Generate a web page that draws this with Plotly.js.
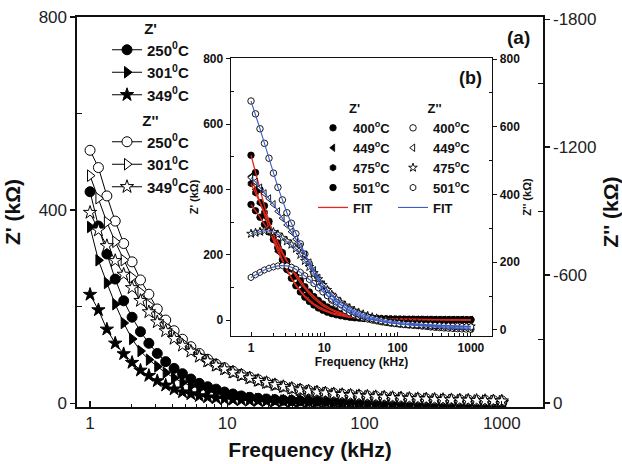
<!DOCTYPE html>
<html><head><meta charset="utf-8">
<script src="https://cdn.plot.ly/plotly-3.0.1.min.js"></script>
<style>html,body{margin:0;padding:0;background:#fff}#chart{width:622px;height:464px}</style>
</head><body><div id="chart"></div>
<script>
// Frequencies (kHz), shared by both panels
const freq = [1, 1.151, 1.326, 1.526, 1.758, 2.024, 2.330, 2.683, 3.089, 3.557, 4.095, 4.715, 5.429, 6.251, 7.198, 8.288, 9.542, 10.99, 12.65, 14.57, 16.77, 19.31, 22.24, 25.60, 29.48, 33.94, 39.08, 45.00, 51.81, 59.65, 68.69, 79.09, 91.06, 104.8, 120.7, 139.0, 160.0, 184.2, 212.1, 244.2, 281.2, 323.8, 372.8, 429.3, 494.2, 569.1, 655.2, 754.4, 868.6, 1000];

// Panel (a): Z' (kOhm, left axis)
const zr250 = [438,367,309,257,212,178,148,124,103,86, 72,61,50,41,34,29,23,19,15,12, 10,8.5,7.2,6.2,5.4,4.8,4.3,3.9,3.6,3.3, 3.1,2.9,2.7,2.5,2.4,2.3,2.2,2.1,2.0,1.9, 1.8,1.7,1.6,1.5,1.4,1.3,1.2,1.1,1.0,0.9];
const zr301 = [365,296,249,205,166,133,108,90,76,63, 52,43,36,30,25,21,17,14,12,10, 8.5,7.2,6.2,5.4,4.8,4.3,3.9,3.6,3.3,3.1, 2.9,2.7,2.5,2.4,2.3,2.2,2.1,2.0,1.9,1.8, 1.7,1.6,1.5,1.4,1.3,1.2,1.1,1.0,0.9,0.8];
const zr349 = [225,193,153,124,102,84,68,57,46,37, 29,23,19,15,12.5,10.5,9,7.5,6.5,5.5, 5,4.5,4.1,3.8,3.5,3.2,3.0,2.8,2.6,2.4, 2.2,2.0,1.9,1.8,1.7,1.6,1.5,1.4,1.3,1.2, 1.1,1.0,0.95,0.9,0.85,0.8,0.75,0.7,0.65,0.6];
// Panel (a): Z'' (kOhm, right axis, negative)
const zi250 = [-1185,-1104,-971,-853,-748,-662,-577,-510,-441,-389, -339,-299,-264,-232,-205,-182,-165,-149,-134,-121, -109,-98,-88,-79,-71,-64,-58,-53,-49,-45, -41.5,-38.5,-36,-33.5,-31,-29,-27,-25,-23,-21.5, -20,-18.5,-17,-16,-15,-14,-13,-12,-11,-10];
const zi301 = [-1066,-960,-848,-756,-670,-590,-520,-460,-405,-358, -318,-282,-250,-222,-198,-178,-160,-145,-131,-118, -106,-96,-86,-77,-69,-62,-57,-52,-47.5,-43.5, -40,-37,-34.5,-32,-30,-28,-26,-24,-22,-20.5, -19,-17.5,-16,-15,-14,-13,-12,-11,-10,-9];
const zi349 = [-893,-810,-737,-667,-603,-540,-480,-427,-380,-338, -302,-270,-242,-218,-196,-176,-159,-144,-130,-117, -105,-95,-85,-76,-68,-61,-56,-51,-46.5,-42.5, -39,-36,-33.5,-31,-29,-27,-25,-23,-21,-19.5, -18,-16.5,-15.5,-14.5,-13.5,-12.5,-11.5,-10.5,-9.5,-8.5];

// Panel (b): Z' (left axis)
const br400 = [505,452,400,350,303,260,220,185,155,128, 105,86,70,57,46,37,30,24,19.5,16, 13,10.5,8.5,7,6,5,4.3,3.7,3.2,2.8, 2.5,2.3,2.1,1.9,1.8,1.7,1.6,1.5,1.4,1.3, 1.2,1.1,1.0,1.0,0.9,0.9,0.8,0.8,0.7,0.7];
const br449 = [440,400,358,318,280,244,210,180,152,128, 107,89,74,61,50,41,34,28,23,19, 15.5,12.5,10,8.2,6.8,5.6,4.7,4,3.4,3, 2.6,2.3,2.1,1.9,1.7,1.6,1.5,1.4,1.3,1.2, 1.1,1.0,0.95,0.9,0.85,0.8,0.75,0.7,0.65,0.6];
const br475 = [418,390,360,330,298,267,237,208,181,156, 134,114,96,80,66,54,44,36,29,23.5, 19,15.5,12.5,10,8.2,6.7,5.5,4.6,3.9,3.3, 2.8,2.4,2.1,1.9,1.7,1.5,1.4,1.3,1.2,1.1, 1.0,0.95,0.9,0.85,0.8,0.75,0.7,0.65,0.6,0.55];
const br501 = [354,335,315,293,270,247,224,202,180,160, 141,120,102,86,72,60,49,40,33,27, 22,18,14.5,12,9.8,8,6.6,5.5,4.6,3.9, 3.3,2.8,2.4,2.1,1.9,1.7,1.5,1.4,1.3,1.2, 1.1,1.0,0.95,0.9,0.85,0.8,0.75,0.7,0.65,0.6];
// Panel (b): Z'' (right axis)
const bi400 = [676,638,594,551,507,463,421,384,346,315, 284,254,224,195,167,142,120,102,88,76, 66,58,51,45,40,36,32.5,29.5,27,24.5, 22.5,20.5,19,17.5,16,15,14,13,12,11, 9,8,7,6,5.2,4.5,3.8,3.2,2.6,2];
const bi449 = [450,437,420,403,388,371,350,330,310,290, 268,245,222,199,176,154,134,116,100,86, 74,64,56,49,43,38,34,30.5,27.5,25, 23,21,19.5,18,16.5,15.5,14.5,13.5,12.5,11.5, 10.5,9.5,8.5,8,7.5,7,6.5,6,5.5,5];
const bi475 = [284,287,290,293,292,289,282,272,262,252, 240,222,204,186,168,150,133,118,104,92, 81,72,64,57,51,46,41.5,37.5,34,31, 28.5,26,24,22.5,21,19.5,18.5,17.5,16.5,15.5, 15,14.5,14,13.5,13,12.5,12,11.5,11,10.5];
const bi501 = [155,163,170,177,182,186,189,190,189,185, 179,170,160,149,137,124,112,101,91,82, 74,66,59,53,47,42,37.5,33.5,30,27, 24.5,22,20,18.5,17,16,15.5,15,14.5,14, 13.5,13,12.5,12,11.5,11,10.5,10,9.5,9];

const mainLabels = ['250<sup>0</sup>C','301<sup>0</sup>C','349<sup>0</sup>C'];
const insetLabels = ['400<sup>o</sup>C','449<sup>o</sup>C','475<sup>o</sup>C','501<sup>o</sup>C'];

const RED = '#e0281c', BLUE = '#3d5cc4';
const traces = [];
function mainTr(y, yaxis, sym, filled, name, leg, size){
  traces.push({x:freq, y:y, xaxis:'x', yaxis:yaxis, mode:'lines+markers', name:name, legend:leg,
    line:{color:'#000', width:1},
    marker:{symbol:sym, size:size, color: filled ? '#000' : '#fff', line:{color:'#000', width:1}}});
}
mainTr(zr250,'y','circle',true,mainLabels[0],'legend',10);
mainTr(zr301,'y','triangle-right',true,mainLabels[1],'legend',10);
mainTr(zr349,'y','star',true,mainLabels[2],'legend',10);
mainTr(zi250,'y2','circle',false,mainLabels[0],'legend2',10);
mainTr(zi301,'y2','triangle-right',false,mainLabels[1],'legend2',10);
mainTr(zi349,'y2','star',false,mainLabels[2],'legend2',10);

const insR = [br400, br449, br475, br501];
const insI = [bi400, bi449, bi475, bi501];
const insSym = ['circle','triangle-left','hexagon','circle'];
const insSymI = ['circle','triangle-left','star','hexagon'];
for (let i=0;i<4;i++){
  traces.push({x:freq, y:insR[i], xaxis:'x2', yaxis:'y3', mode:'markers', name:insetLabels[i], legend:'legend3',
    marker:{symbol:insSym[i], size:6.5, color:'#000', line:{color:'#000', width:0.8}}});
}
for (let i=0;i<4;i++){
  traces.push({x:freq, y:insR[i], xaxis:'x2', yaxis:'y3', mode:'lines', name:'FIT', legend:'legend3',
    showlegend: i===3, line:{color:RED, width:1.3}});
}
for (let i=0;i<4;i++){
  traces.push({x:freq, y:insI[i], xaxis:'x2', yaxis:'y4', mode:'markers', name:insetLabels[i], legend:'legend4',
    marker:{symbol:insSymI[i], size:6.5, color:'#fff', line:{color:'#000', width:0.9}}});
}
for (let i=0;i<4;i++){
  traces.push({x:freq, y:insI[i], xaxis:'x2', yaxis:'y4', mode:'lines', name:'FIT', legend:'legend4',
    showlegend: i===3, line:{color:BLUE, width:1.1}});
}

const minorLog = [2,3,4,5,6,7,8,9,20,30,40,50,60,70,80,90,200,300,400,500,600,700,800,900];
const AX = '#111';
const FONT = 'Liberation Sans, Arial, sans-serif';
const bold = (s)=>({family:FONT, size:s, weight:'bold', color:'#111'});
const reg = (s)=>({family:FONT, size:s, color:'#222'});

function legendCfg(x, y, title, fs){
  return {x:x, y:y, xanchor:'left', yanchor:'top', bgcolor:'rgba(0,0,0,0)', borderwidth:0,
    font:bold(fs), title:{text:title, side:'top center', font:bold(fs)}, itemwidth:30, tracegroupgap:0};
}

const layout = {
  width:622, height:464, margin:{l:0,r:0,t:0,b:0},
  paper_bgcolor:'#fff', plot_bgcolor:'rgba(0,0,0,0)',
  font:{family:FONT, color:'#111'},
  xaxis:{type:'log', domain:[77/622, 543/622], range:[-0.095, 3.30], anchor:'y',
    tickvals:[1,10,100,1000], ticktext:['1','10','100','1000'], ticks:'inside', ticklen:6, tickwidth:1.2, tickcolor:AX,
    minor:{tickvals:minorLog, ticks:'inside', ticklen:3, tickwidth:1, tickcolor:AX},
    showline:true, linewidth:1.6, linecolor:AX, mirror:true, showgrid:false, zeroline:false,
    tickfont:reg(17), automargin:false,
    title:{text:'Frequency (kHz)', font:bold(21), standoff:10}},
  yaxis:{domain:[57/464, 447/464], range:[-8, 800], anchor:'x',
    tickvals:[0,400,800], ticktext:['0','400','800'], ticks:'outside', ticklen:5, tickwidth:1.2, tickcolor:AX,
    minor:{tickvals:[200,600], ticks:'inside', ticklen:5, tickwidth:1, tickcolor:AX},
    showline:true, linewidth:1.6, linecolor:AX, showgrid:false, zeroline:false,
    tickfont:reg(17), automargin:false,
    title:{text:"Z' (kΩ)", font:bold(21), standoff:12}},
  yaxis2:{overlaying:'y', side:'right', anchor:'x', range:[18.75, -1810],
    tickvals:[0,-600,-1200,-1800], ticktext:['0','-600','-1200','-1800'], ticks:'outside', ticklen:5, tickwidth:1.2, tickcolor:AX,
    minor:{tickvals:[-300,-900,-1500], ticks:'inside', ticklen:5, tickwidth:1, tickcolor:AX},
    showline:true, linewidth:1.6, linecolor:AX, showgrid:false, zeroline:false,
    tickfont:reg(17), automargin:false,
    title:{text:"Z'' (kΩ)", font:bold(21), standoff:14}},
  xaxis2:{type:'log', domain:[231/622, 492/622], range:[-0.273, 3.288], anchor:'y3',
    tickvals:[1,10,100,1000], ticktext:['1','10','100','1000'], ticks:'inside', ticklen:4, tickwidth:1, tickcolor:AX,
    minor:{tickvals:minorLog, ticks:'inside', ticklen:3, tickwidth:1, tickcolor:AX},
    showline:true, linewidth:1.4, linecolor:AX, mirror:true, showgrid:false, zeroline:false,
    tickfont:bold(12), automargin:false,
    title:{text:'Frequency (kHz)', font:bold(12), standoff:4}},
  yaxis3:{domain:[128/464, 406/464], range:[-49, 803], anchor:'x2',
    tickvals:[0,200,400,600,800], ticks:'outside', ticklen:4, tickwidth:1, tickcolor:AX,
    minor:{tickvals:[100,300,500,700], ticks:'inside', ticklen:3, tickwidth:1, tickcolor:AX},
    showline:true, linewidth:1.4, linecolor:AX, showgrid:false, zeroline:false,
    tickfont:bold(12), automargin:false,
    title:{text:"Z' (kΩ)", font:bold(11), standoff:2}},
  yaxis4:{overlaying:'y3', side:'right', anchor:'x2', range:[-18, 803],
    tickvals:[0,200,400,600,800], ticks:'outside', ticklen:4, tickwidth:1, tickcolor:AX,
    minor:{tickvals:[100,300,500,700], ticks:'inside', ticklen:3, tickwidth:1, tickcolor:AX},
    showline:true, linewidth:1.4, linecolor:AX, showgrid:false, zeroline:false,
    tickfont:bold(12), automargin:false,
    title:{text:"Z'' (kΩ)", font:bold(11), standoff:4}},
  legend: legendCfg(107/622, 1-14/464, "Z'", 15),
  legend2: legendCfg(107/622, 1-106/464, "Z''", 15),
  legend3: legendCfg(313/622, 1-96/464, "Z'", 13),
  legend4: legendCfg(393/622, 1-96/464, "Z''", 13),
  annotations:[
    {text:'(a)', x:518/622, y:1-37/464, xref:'paper', yref:'paper', xanchor:'center', yanchor:'middle', showarrow:false, font:bold(19)},
    {text:'(b)', x:470/622, y:1-78/464, xref:'paper', yref:'paper', xanchor:'center', yanchor:'middle', showarrow:false, font:bold(18)}
  ],
  showlegend:true
};

Plotly.newPlot('chart', traces, layout, {staticPlot:true, displayModeBar:false});
</script></body></html>
